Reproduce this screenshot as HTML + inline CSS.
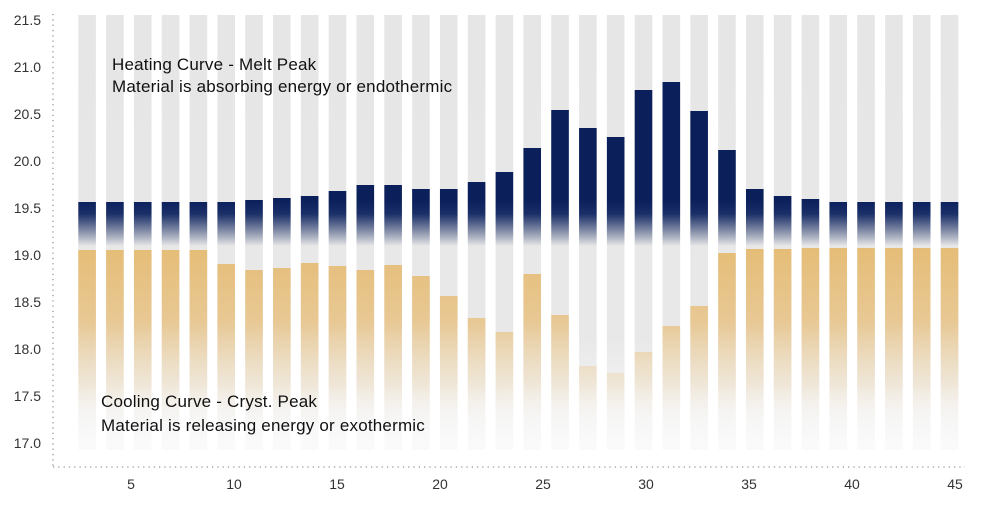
<!DOCTYPE html>
<html><head><meta charset="utf-8"><style>body{margin:0;background:#fff}svg{display:block}text{font-family:"Liberation Sans",sans-serif}</style></head><body>
<svg width="1000" height="511" viewBox="0 0 1000 511">
<defs>
<linearGradient id="g" x1="0" y1="0" x2="0" y2="511" gradientUnits="userSpaceOnUse">
<stop offset="0" stop-color="#e6e6e6"/><stop offset="0.66" stop-color="#e8e8e8"/><stop offset="0.87" stop-color="#fafafa"/><stop offset="1" stop-color="#fff"/></linearGradient>
<linearGradient id="n" x1="0" y1="200" x2="0" y2="246" gradientUnits="userSpaceOnUse">
<stop offset="0" stop-color="#0b1f5a"/><stop offset="0.3" stop-color="#1a2f68"/><stop offset="1" stop-color="#0b1f5a" stop-opacity="0"/></linearGradient>
<linearGradient id="o" x1="0" y1="250" x2="0" y2="430" gradientUnits="userSpaceOnUse">
<stop offset="0" stop-color="#e5bd78"/><stop offset="0.4" stop-color="#e8c894"/><stop offset="0.75" stop-color="#efe0c8" stop-opacity="0.6"/><stop offset="1" stop-color="#fff" stop-opacity="0"/></linearGradient>
</defs>
<g id="bars"></g>
<line x1="53" y1="14" x2="53" y2="467" stroke="#999" stroke-width="1.3" stroke-dasharray="1.3 4"/>
<line x1="53" y1="467" x2="965" y2="467" stroke="#999" stroke-width="1.3" stroke-dasharray="1.3 4"/>
<g font-size="14" fill="#333" text-anchor="end">
<text x="41" y="25">21.5</text><text x="41" y="72">21.0</text><text x="41" y="119">20.5</text><text x="41" y="166">20.0</text><text x="41" y="213">19.5</text><text x="41" y="260">19.0</text><text x="41" y="307">18.5</text><text x="41" y="354">18.0</text><text x="41" y="401">17.5</text><text x="41" y="448">17.0</text>
</g>
<g font-size="14" fill="#333" text-anchor="middle">
<text x="131" y="489">5</text><text x="234" y="489">10</text><text x="337" y="489">15</text><text x="440" y="489">20</text><text x="543" y="489">25</text><text x="646" y="489">30</text><text x="749" y="489">35</text><text x="852" y="489">40</text><text x="955" y="489">45</text>
</g>
<g font-size="17" fill="#111" letter-spacing="0.2">
<text x="112" y="70">Heating Curve - Melt Peak</text>
<text x="112" y="92">Material is absorbing energy or endothermic</text>
<text x="101" y="407">Cooling Curve - Cryst. Peak</text>
<text x="101" y="431">Material is releasing energy or exothermic</text>
</g>
</svg>
<script>
var N=[202,202,202,202,202,202,200,198,196,191,185,185,189,189,182,172,148,110,128,137,90,82,111,150,189,196,199,202,202,202,202,202];
var G=[250,250,250,250,250,264,270,268,263,266,270,265,276,296,318,332,274,315,366,373,352,326,306,253,249,249,248,248,248,248,248,248];
var s='';
for(var i=0;i<32;i++){var x=78.3+27.82*i;
s+='<rect x="'+x+'" y="15" width="17.6" height="435" fill="url(#g)"/>';
s+='<rect x="'+x+'" y="'+N[i]+'" width="17.6" height="'+(246-N[i])+'" fill="url(#n)"/>';
s+='<rect x="'+x+'" y="'+G[i]+'" width="17.6" height="'+(440-G[i])+'" fill="url(#o)"/>';}
document.getElementById('bars').innerHTML=s;
</script>
</body></html>
